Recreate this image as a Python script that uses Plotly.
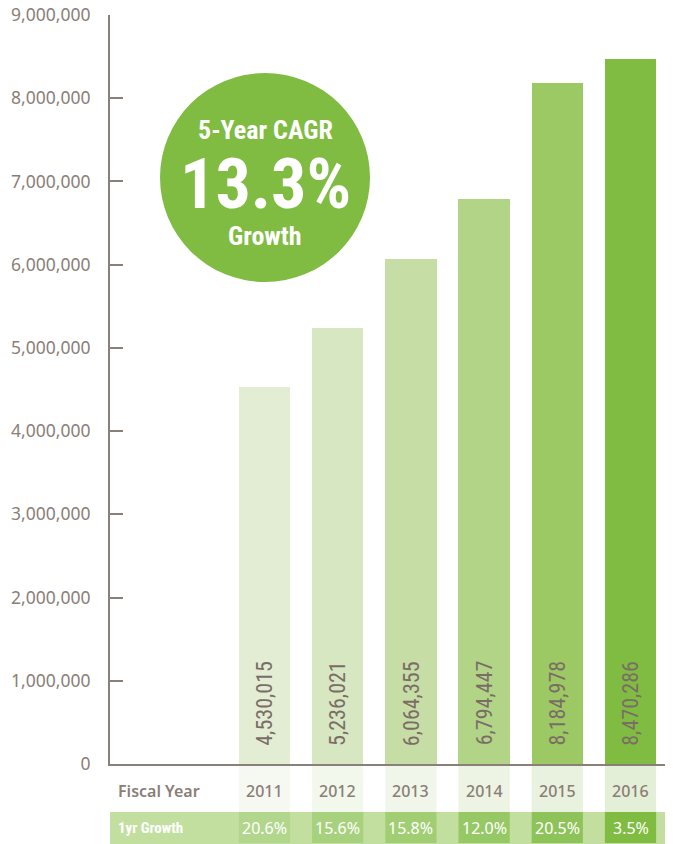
import plotly.graph_objects as go

# ---- data ----
years = [2011, 2012, 2013, 2014, 2015, 2016]
values = [4530015, 5236021, 6064355, 6794447, 8184978, 8470286]
growth = ["20.6%", "15.6%", "15.8%", "12.0%", "20.5%", "3.5%"]
y_tick_vals = [0, 1000000, 2000000, 3000000, 4000000, 5000000, 6000000, 7000000, 8000000, 9000000]
cagr_text = ["5-Year CAGR", "13.3%", "Growth"]
row_labels = ["Fiscal Year", "1yr Growth"]

# ---- styles ----
bar_colors = ["#e2edd4", "#d7e7c2", "#c6dda5", "#b1d487", "#9cc963", "#80bc42"]
fy_cell_colors = ["#f6f9f1", "#f3f8ed", "#f0f6e9", "#edf4e4", "#e9f2de", "#e4efd7"]
gr_cell_colors = ["#b2d68c", "#a7d17c", "#a1ce73", "#96c865", "#8dc359", "#80bc42"]
gr_row_bg = "#c2df9f"
gray = "#8a7e77"
axis_col = "#8b8079"
label_col = "#7a6d66"
narrow = "Roboto Condensed, Liberation Sans Narrow, Roboto, sans-serif"
reg = "Noto Sans, DejaVu Sans, sans-serif"

# page has an 8px body margin: figure is offset by 8px
OFF = 8
W, H = 673 - OFF, 844 - OFF
AX_X, AX_Y, TOP_Y = 110, 764, 15   # page pixels
ML, MT, MB = AX_X - OFF, TOP_Y - OFF, 844 - AX_Y
plot_h = AX_Y - TOP_Y
plot_w = 673 - AX_X


def py(p):
    return (AX_Y - p) / plot_h


def px(p):
    return (p - AX_X) / plot_w


fig = go.Figure()
fig.add_trace(go.Bar(
    x=years, y=values, width=0.70,
    marker=dict(color=bar_colors, line=dict(width=0)),
    hoverinfo="skip",
))

shapes = []
annotations = []

for yr, v in zip(years, values):
    annotations.append(dict(
        x=yr, y=730000, xref="x", yref="y", text=f"{v:,}",
        textangle=-90, showarrow=False, xanchor="center", yanchor="middle",
        font=dict(family=narrow, size=22, color=label_col),
    ))

for yr, c in zip(years, fy_cell_colors):
    shapes.append(dict(type="rect", xref="x", yref="paper",
                       x0=yr - 0.35, x1=yr + 0.35, y0=py(766), y1=py(812),
                       fillcolor=c, line=dict(width=0), layer="below"))
shapes.append(dict(type="rect", xref="paper", yref="paper",
                   x0=0, x1=1, y0=py(812), y1=py(844),
                   fillcolor=gr_row_bg, line=dict(width=0), layer="below"))
for yr, c in zip(years, gr_cell_colors):
    shapes.append(dict(type="rect", xref="x", yref="paper",
                       x0=yr - 0.35, x1=yr + 0.35, y0=py(812), y1=py(843),
                       fillcolor=c, line=dict(width=0), layer="below"))

annotations.append(dict(x=px(116), y=py(791), xref="paper", yref="paper",
                        text=row_labels[0], showarrow=False, xanchor="left", yanchor="middle",
                        font=dict(family=reg, size=16, color=gray, weight=600)))
annotations.append(dict(x=px(116), y=py(828), xref="paper", yref="paper",
                        text=row_labels[1], showarrow=False, xanchor="left", yanchor="middle",
                        font=dict(family=narrow, size=15, color="white", weight="bold")))
for yr, g in zip(years, growth):
    annotations.append(dict(x=yr, y=py(791), xref="x", yref="paper", text=str(yr),
                            showarrow=False, xanchor="center", yanchor="middle",
                            font=dict(family=reg, size=16, color=gray, weight=500)))
    annotations.append(dict(x=yr, y=py(828), xref="x", yref="paper", text=g,
                            showarrow=False, xanchor="center", yanchor="middle",
                            font=dict(family=reg, size=16, color="white")))

shapes.append(dict(type="circle", xref="paper", yref="paper",
                   x0=px(160), x1=px(370), y0=py(282), y1=py(73),
                   fillcolor="#80bc42", line=dict(width=0)))
cx = px(265)
annotations.append(dict(x=cx, y=py(130), xref="paper", yref="paper", text=cagr_text[0],
                        showarrow=False, xanchor="center", yanchor="middle",
                        font=dict(family=narrow, size=26, color="white", weight="bold")))
annotations.append(dict(x=cx, y=py(184), xref="paper", yref="paper", text=cagr_text[1],
                        showarrow=False, xanchor="center", yanchor="middle",
                        font=dict(family=narrow, size=70, color="white", weight="bold")))
annotations.append(dict(x=cx, y=py(236), xref="paper", yref="paper", text=cagr_text[2],
                        showarrow=False, xanchor="center", yanchor="middle",
                        font=dict(family=narrow, size=26, color="white", weight="bold")))

x0 = 2011 - (264.5 - AX_X) / 73.2
x1 = 2016 + (673 - 630.5) / 73.2

fig.update_layout(
    width=W, height=H,
    margin=dict(l=ML, r=0, t=MT, b=MB, pad=0, autoexpand=False),
    paper_bgcolor="white", plot_bgcolor="white",
    showlegend=False,
    xaxis=dict(range=[x0, x1], showgrid=False, zeroline=False, showticklabels=False,
               ticks="", showline=True, linecolor=axis_col, linewidth=2, fixedrange=True,
               automargin=False),
    yaxis=dict(range=[0, 9000000], tickvals=y_tick_vals, tickformat=",d",
               showgrid=False, zeroline=False, showline=True, linecolor=axis_col, linewidth=2,
               ticks="inside", ticklen=13, tickwidth=2, tickcolor=axis_col,
               tickfont=dict(family=reg, size=17.5, color=gray), ticklabelstandoff=14,
               ticklabeloverflow="allow", automargin=False, fixedrange=True),
    shapes=shapes,
    annotations=annotations,
    bargap=0,
)

fig.write_html("out.html")
